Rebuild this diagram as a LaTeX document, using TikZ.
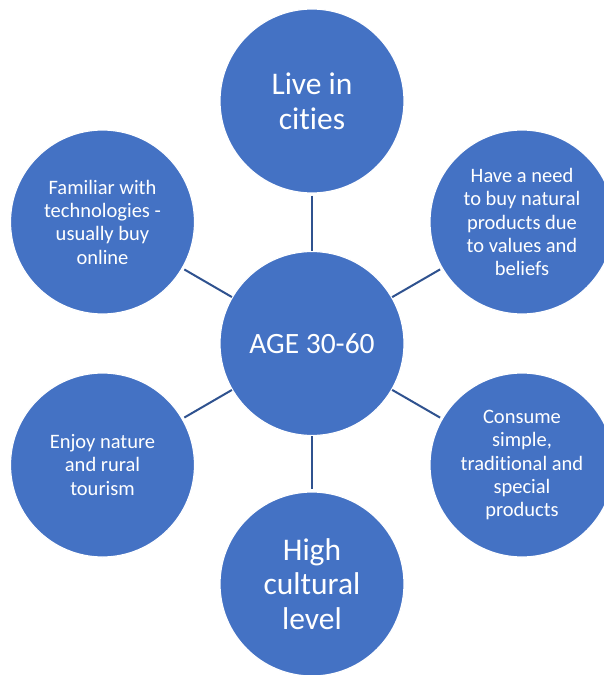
\documentclass[tikz,border=0pt]{standalone}
\usepackage{fontspec}
\setmainfont[Ligatures=NoCommon]{Carlito}
\definecolor{bubble}{HTML}{4472C4}
\definecolor{linkc}{HTML}{2F528F}
\begin{document}
\begin{tikzpicture}[x=1pt,y=-1pt,
  bub/.style={circle,fill=bubble,draw=white,line width=1.2pt,minimum size=184pt,inner sep=0pt,align=center,text=white},
  big/.style={bub,font=\fontsize{31.5}{34.6}\selectfont},
  mid/.style={bub,font=\fontsize{29.5}{32}\selectfont},
  small/.style={bub,font=\fontsize{20.5}{23.3}\selectfont},
  link/.style={draw=linkc,line width=2pt}]
\clip (0,0) rectangle (604,675);
\fill[white] (0,0) rectangle (604,675);
\node[mid] (c) at (312,343.5) {AGE 30-60};
\node[big] (t) at (312,101) {Live in\\cities};
\node[big] (b) at (312,584) {High\\cultural\\level};
\node[small] (tl) at (102.5,222) {Familiar with\\technologies -\\usually buy\\online};
\node[small] (tr) at (522,222) {Have a need\\to buy natural\\products due\\to values and\\beliefs};
\node[small] (bl) at (102.5,465) {Enjoy nature\\and rural\\tourism};
\node[small] (br) at (522,465) {Consume\\simple,\\traditional and\\special\\products};
\draw[link,shorten <=2pt] (t) -- (c);
\draw[link,shorten >=2pt] (c) -- (b);
\draw[link,shorten <=2pt] (tl) -- (c);
\draw[link,shorten <=2pt] (tr) -- (c);
\draw[link,shorten <=2pt] (bl) -- (c);
\draw[link,shorten <=2pt] (br) -- (c);
\end{tikzpicture}
\end{document}
